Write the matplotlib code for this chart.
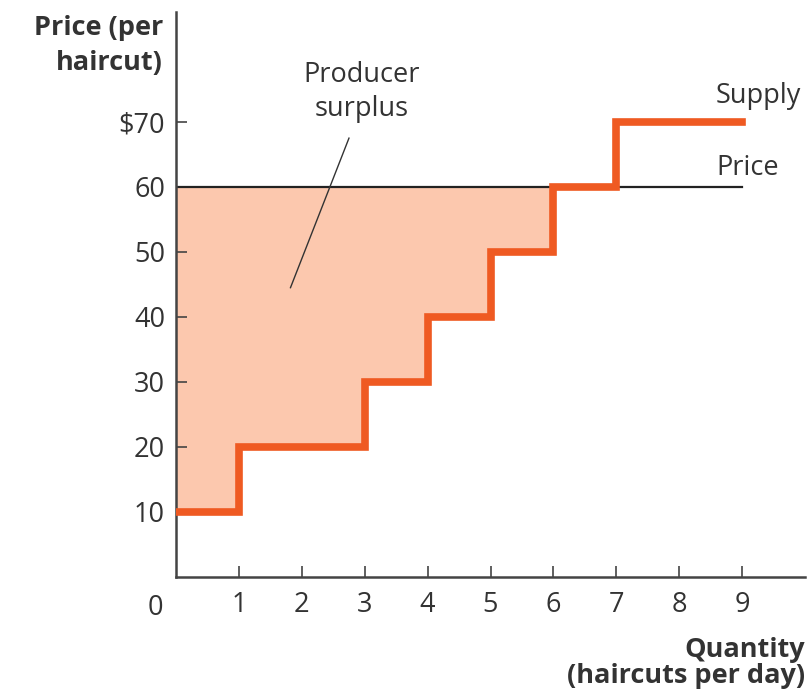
import matplotlib
matplotlib.use("Agg")
import matplotlib.pyplot as plt
import numpy as np

# Supply schedule: price at which each additional haircut is offered
quantity_edges = [0, 1, 3, 4, 5, 6, 7, 9]
supply_prices = [10, 20, 30, 40, 50, 60, 70, 70]
market_price = 60
x_ticks = [1, 2, 3, 4, 5, 6, 7, 8, 9]
y_ticks = [10, 20, 30, 40, 50, 60, 70]
y_tick_labels = ["10", "20", "30", "40", "50", "60", "$70"]

plt.rcParams["font.family"] = ["Open Sans", "DejaVu Sans"]
text_color = "#333333"
supply_color = "#ef5a22"
surplus_color = "#fcc8ae"
fs = 19.5
W, H = 809, 699

fig = plt.figure(figsize=(W / 100, H / 100), dpi=100)
ax = fig.add_axes([176 / W, 1 - 577 / H, (805 - 176) / W, (577 - 12) / H])


def ftext(x, y, s, **kw):
    """Place text using pixel coordinates measured from the top-left corner."""
    fig.text(x / W, 1 - y / H, s, va="baseline", color=text_color, **kw)


# Producer surplus: area between the price line and the supply steps
qe = np.array(quantity_edges, dtype=float)
sp = np.array(supply_prices, dtype=float)
mask = qe <= 6
ax.fill_between(qe[mask], sp[mask], market_price, step="post",
                color=surplus_color, linewidth=0, zorder=1)

# Price line
ax.plot([0, 9], [market_price, market_price], color="#222222", lw=1.6, zorder=2)

# Supply step curve
ax.step(quantity_edges, supply_prices, where="post", color=supply_color,
        lw=5.5, solid_joinstyle="miter", zorder=3)

ax.set_xlim(0, 10.0)
ax.set_ylim(0, 86.9)
for s in ["top", "right"]:
    ax.spines[s].set_visible(False)
for s in ["left", "bottom"]:
    ax.spines[s].set_color("#444444")
    ax.spines[s].set_linewidth(1.8)

ax.set_xticks(x_ticks)
ax.set_yticks(y_ticks)
ax.set_yticklabels(y_tick_labels)
ax.tick_params(direction="in", length=8, width=1.2, color="#444444",
               labelsize=fs, labelcolor=text_color)
ax.tick_params(axis="x", pad=10)
ax.tick_params(axis="y", pad=8)

# Origin label
ax.text(-0.33, -2.6, "0", ha="center", va="top", fontsize=fs, color=text_color)

# Axis titles
ftext(163, 35, "Price (per", ha="right", fontsize=fs, fontweight="bold")
ftext(163, 70, "haircut)", ha="right", fontsize=fs, fontweight="bold")
ftext(805, 657, "Quantity", ha="right", fontsize=fs, fontweight="bold")
ftext(805, 683, "(haircuts per day)", ha="right", fontsize=fs, fontweight="bold")

# Curve labels
ftext(716, 103, "Supply", ha="left", fontsize=fs)
ftext(716, 175, "Price", ha="left", fontsize=fs)

# Producer surplus annotation
ftext(362, 82, "Producer", ha="center", fontsize=fs)
ftext(362, 116, "surplus", ha="center", fontsize=fs)
ax.plot([2.75, 1.82], [67.5, 44.5], color="#333333", lw=1.0, zorder=4)

fig.savefig("out.png", dpi=100)
